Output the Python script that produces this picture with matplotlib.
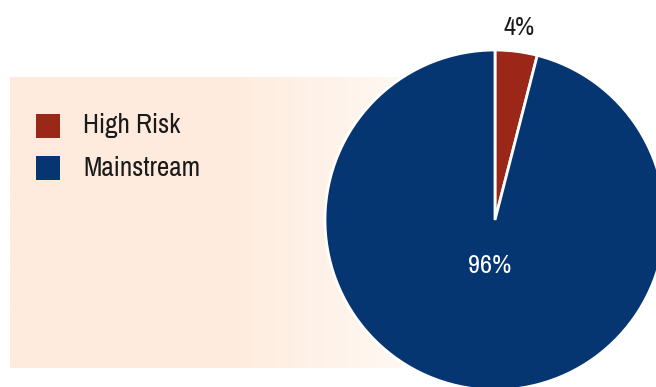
import matplotlib.pyplot as plt
import numpy as np
from matplotlib.patches import Rectangle

plt.rcParams['font.family'] = ['Archivo Narrow', 'DejaVu Sans']

categories = ['High Risk', 'Mainstream']
shares = [4, 96]
colors = ['#9b2718', '#053672']
label_colors = ['#1a1a1a', 'white']
label_dist = [1.14, 0.27]

W, H = 656, 387
CX, CY, R = 495, 220, 170

fig = plt.figure(figsize=(W / 100, H / 100), dpi=100)
ax = fig.add_axes([0, 0, 1, 1])

# peach panel behind legend, fading to the right
grad = np.linspace(0, 1, 256)
fade = np.clip((grad - 0.55) / 0.45, 0, 1)
left = np.array([254, 235, 221]) / 255
right = np.array([255, 248, 242]) / 255
img = left[None, :] * (1 - fade[:, None]) + right[None, :] * fade[:, None]
ax.imshow(img[None, :, :], extent=[10, 402, 368, 77], aspect='auto', zorder=0)

# y axis is flipped below, so start at -90 and go counterclockwise
wedges, _ = ax.pie(shares, colors=colors, startangle=-90, counterclock=True,
                   center=(CX, CY), radius=R,
                   wedgeprops=dict(edgecolor='white', linewidth=2),
                   frame=True)
for w, s, c, d in zip(wedges, shares, label_colors, label_dist):
    w.set_zorder(2)
    mid = np.deg2rad((w.theta1 + w.theta2) / 2)
    x = CX + d * R * np.cos(mid)
    y = CY + d * R * np.sin(mid)
    ax.text(x, y, f'{s}%', color=c, fontsize=19, ha='center', va='center', zorder=3)

# legend
for i, (cat, col) in enumerate(zip(categories, colors)):
    y0 = 114 + i * 42
    ax.add_patch(Rectangle((36, y0), 24, 24, facecolor=col, edgecolor='none', zorder=3))
    ax.text(83, y0 + 12, cat, fontsize=19.5, color='#1a1a1a', va='center', ha='left', zorder=3)

ax.set_xlim(0, W)
ax.set_ylim(H, 0)
ax.set_aspect('auto')
ax.axis('off')

fig.savefig('out.png', dpi=100)
